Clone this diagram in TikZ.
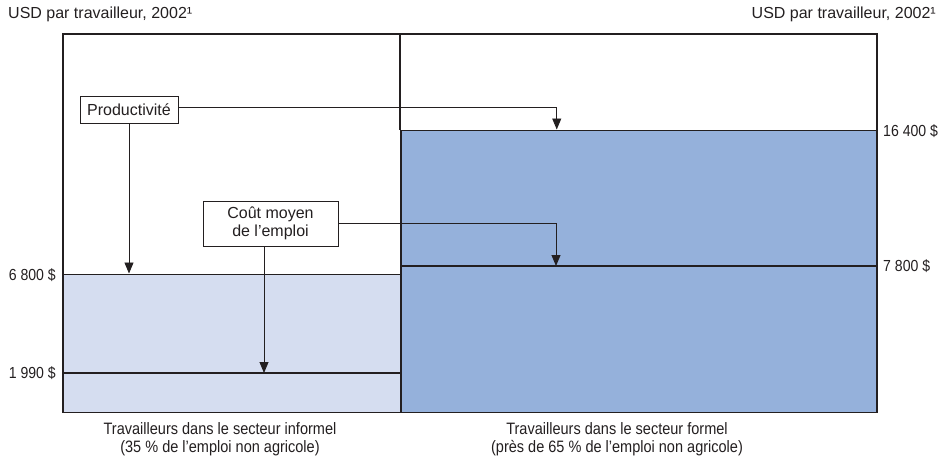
\documentclass[tikz,border=0pt]{standalone}
\usepackage{fontspec}
\setmainfont{Liberation Sans}
\newfontfamily\condfont[FakeStretch=0.88]{Liberation Sans}
\usepackage{xcolor}
\usepackage{tikz}
\usetikzlibrary{arrows.meta,positioning,calc}

\definecolor{trait}{HTML}{231F20}
\definecolor{clair}{HTML}{D5DDF0}
\definecolor{fonce}{HTML}{95B1DB}

\begin{document}
\begin{tikzpicture}[x=1pt, y=1pt,
    every node/.style={font=\fontsize{16}{18}\selectfont, text=trait},
    bar/.style={rectangle, draw=trait, line width=1.5pt, anchor=south west, inner sep=0pt},
    boite/.style={rectangle, draw=trait, fill=white, line width=0.8pt, text centered, inner sep=2pt},
    valeur/.style={font=\condfont\fontsize{16}{18}\selectfont, inner sep=0pt},
    legende/.style={font=\condfont\fontsize{16.5}{18.5}\selectfont, align=center, inner sep=0pt},
    niveau/.style={draw=trait, line width=1.1pt},
    arrow/.style={-{Triangle[length=11pt,width=9pt]}, draw=trait, line width=0.9pt}
]
    \useasboundingbox (0,0) rectangle (941,459);

    % Cadre et barres
    \node[bar, minimum width=814pt, minimum height=378pt] (cadre) at (62,46) {};
    \node[bar, fill=clair, minimum width=338pt, minimum height=138pt] (inf) at (62,46) {};
    \node[bar, fill=fonce, minimum width=476pt, minimum height=282pt] (form) at (400,46) {};
    \draw[niveau] (cadre.north -| form.west) -- (form.north west);

    % Niveaux
    \coordinate (c1990) at (62,86);
    \coordinate (c7800) at (400,193);
    \draw[niveau] (c1990) -- (c1990 -| inf.east);
    \draw[niveau] (c7800) -- (c7800 -| form.east);

    % Titres des axes
    \node[anchor=west, inner sep=0pt] (axeg) at (8,445) {USD par travailleur, 2002¹};
    \node[anchor=east, inner sep=0pt] (axed) at (936,445) {USD par travailleur, 2002¹};

    % Valeurs
    \node[valeur, anchor=east] (v6800) at (56,184) {6 800 \$};
    \node[valeur, anchor=east] (v1990) at (56,86) {1 990 \$};
    \node[valeur, anchor=west] (v16400) at (883,328) {16 400 \$};
    \node[valeur, anchor=west] (v7800) at (883,193) {7 800 \$};

    % Legendes
    \node[legende] (linf) at (220,20) {Travailleurs dans le secteur informel\\(35 \% de l’emploi non agricole)};
    \node[legende] (lform) at (617,20) {Travailleurs dans le secteur formel\\(près de 65 \% de l’emploi non agricole)};

    % Boites
    \node[boite, minimum width=98pt, minimum height=27pt] (prod) at (129,349) {Productivité};
    \node[boite, align=center, minimum width=135pt, minimum height=45pt] (cout) at (270.5,235.5) {Coût moyen\\de l’emploi};

    % Fleches
    \draw[arrow] (prod.south) -- (prod.south |- inf.north);
    \draw[arrow] ([yshift=3pt]prod.east) -| ([xshift=-82pt]form.north);
    \draw[arrow] (cout.east) -| ([xshift=156pt]c7800);
    \draw[arrow] ([xshift=-6.5pt]cout.south) -- ([xshift=-6.5pt]cout.south |- c1990);
\end{tikzpicture}
\end{document}
